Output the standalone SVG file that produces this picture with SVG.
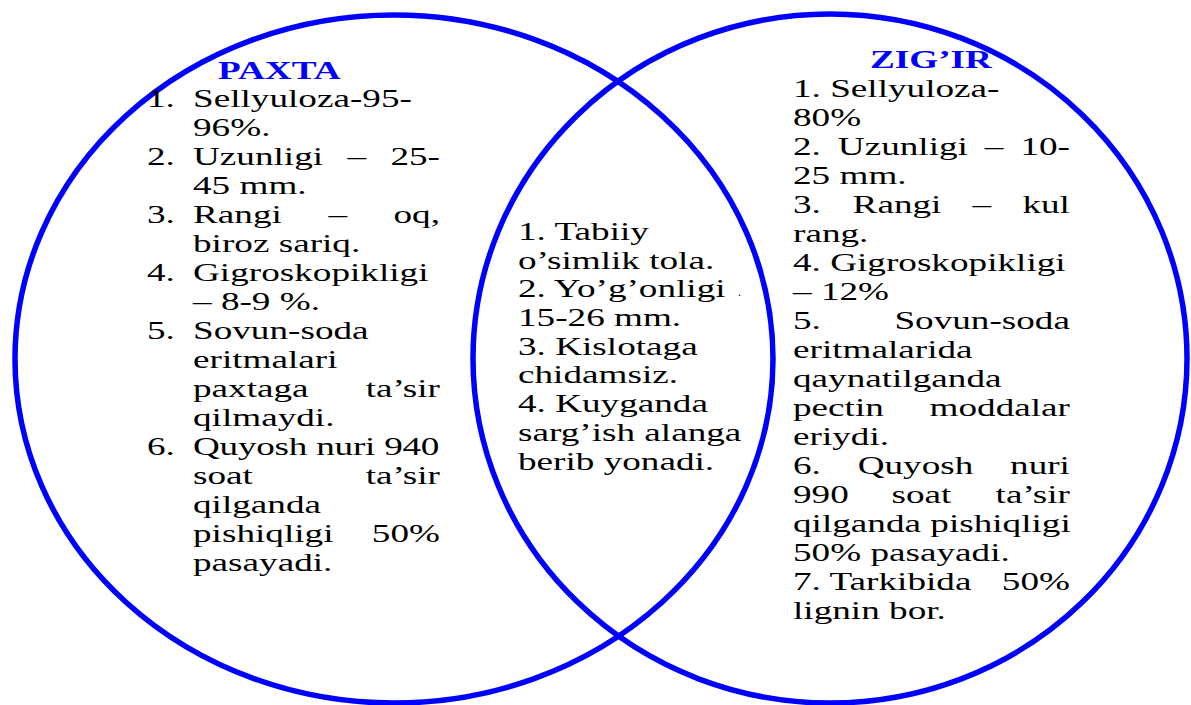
<svg xmlns="http://www.w3.org/2000/svg" width="1191" height="705" viewBox="0 0 1191 705">
<style>
.ring{fill:none;stroke:#0000FF;stroke-width:5.5}
.t{font-family:"Liberation Serif","Times New Roman",serif;font-size:25.7px;fill:#000}
.h{font-family:"Liberation Serif","Times New Roman",serif;font-size:25.7px;font-weight:bold;fill:#0000FF}
.e{text-anchor:end}
</style>
<rect width="1191" height="705" fill="#fff"/>
<g id="connectors"/>
<g id="paxta">
<ellipse class="ring" cx="394" cy="359" rx="379" ry="344"/>
<text class="h" transform="translate(218 79) scale(1.447 1)">PAXTA</text>
<g transform="translate(147 0) scale(1.447 1)">
<text class="t" x="0" y="107">1.</text><text class="t" x="31.8" y="107">Sellyuloza-95-</text>
<text class="t" x="31.8" y="136">96%.</text>
<text class="t" x="0" y="165">2.</text><text class="t" x="31.8" y="165">Uzunligi</text><text class="t" x="138.5" y="165">–</text><text class="t e" x="202.5" y="165">25-</text>
<text class="t" x="31.8" y="194">45 mm.</text>
<text class="t" x="0" y="223">3.</text><text class="t" x="31.8" y="223">Rangi</text><text class="t" x="125.4" y="223">–</text><text class="t e" x="202.5" y="223">oq,</text>
<text class="t" x="31.8" y="252">biroz sariq.</text>
<text class="t" x="0" y="281">4.</text><text class="t" x="31.8" y="281">Gigroskopikligi</text>
<text class="t" x="31.8" y="310">– 8-9 %.</text>
<text class="t" x="0" y="339">5.</text><text class="t" x="31.8" y="339">Sovun-soda</text>
<text class="t" x="31.8" y="368">eritmalari</text>
<text class="t" x="31.8" y="397">paxtaga</text><text class="t e" x="202.5" y="397">ta’sir</text>
<text class="t" x="31.8" y="426">qilmaydi.</text>
<text class="t" x="0" y="455">6.</text><text class="t" x="31.8" y="455" textLength="170.3" lengthAdjust="spacing">Quyosh nuri 940</text>
<text class="t" x="31.8" y="484">soat</text><text class="t e" x="202.5" y="484">ta’sir</text>
<text class="t" x="31.8" y="513">qilganda</text>
<text class="t" x="31.8" y="542">pishiqligi</text><text class="t e" x="202.5" y="542">50%</text>
<text class="t" x="31.8" y="571">pasayadi.</text>
</g>
</g>
<g id="zigir">
<ellipse class="ring" cx="830" cy="358.5" rx="357" ry="344.5"/>
<text class="h" transform="translate(870 68) scale(1.447 1)">ZIG’IR</text>
<g transform="translate(793 0) scale(1.447 1)">
<text class="t" x="0" y="97">1. Sellyuloza-</text>
<text class="t" x="0" y="126">80%</text>
<text class="t" x="0" y="155">2.</text><text class="t" x="31" y="155">Uzunligi</text><text class="t" x="132.6" y="155">–</text><text class="t e" x="191.4" y="155">10-</text>
<text class="t" x="0" y="184">25 mm.</text>
<text class="t" x="0" y="213">3.</text><text class="t" x="41.2" y="213">Rangi</text><text class="t" x="124.1" y="213">–</text><text class="t e" x="191.4" y="213">kul</text>
<text class="t" x="0" y="242">rang.</text>
<text class="t" x="0" y="271">4. Gigroskopikligi</text>
<text class="t" x="0" y="300">– 12%</text>
<text class="t" x="0" y="329">5.</text><text class="t e" x="191.4" y="329">Sovun-soda</text>
<text class="t" x="0" y="358">eritmalarida</text>
<text class="t" x="0" y="387">qaynatilganda</text>
<text class="t" x="0" y="416">pectin</text><text class="t e" x="191.4" y="416">moddalar</text>
<text class="t" x="0" y="445">eriydi.</text>
<text class="t" x="0" y="474">6.</text><text class="t" x="44.7" y="474">Quyosh</text><text class="t e" x="191.4" y="474">nuri</text>
<text class="t" x="0" y="503">990</text><text class="t" x="68.1" y="503">soat</text><text class="t e" x="191.4" y="503">ta’sir</text>
<text class="t" x="0" y="532">qilganda pishiqligi</text>
<text class="t" x="0" y="561">50% pasayadi.</text>
<text class="t" x="0" y="590">7. Tarkibida</text><text class="t e" x="191.4" y="590">50%</text>
<text class="t" x="0" y="619">lignin bor.</text>
</g>
</g>
<g id="common">
<g transform="translate(518 0) scale(1.447 1)">
<text class="t" x="0" y="240">1. Tabiiy</text>
<text class="t" x="0" y="268.7">o’simlik tola.</text>
<text class="t" x="0" y="297.4">2. Yo’g’onligi</text>
<text class="t" x="0" y="326">15-26 mm.</text>
<text class="t" x="0" y="354.8">3. Kislotaga</text>
<text class="t" x="0" y="383.5">chidamsiz.</text>
<text class="t" x="0" y="412.2">4. Kuyganda</text>
<text class="t" x="0" y="441">sarg’ish alanga</text>
<text class="t" x="0" y="469.6">berib yonadi.</text>
</g>
<text class="t" x="738" y="296" style="font-size:12px">.</text>
</g>
</svg>
